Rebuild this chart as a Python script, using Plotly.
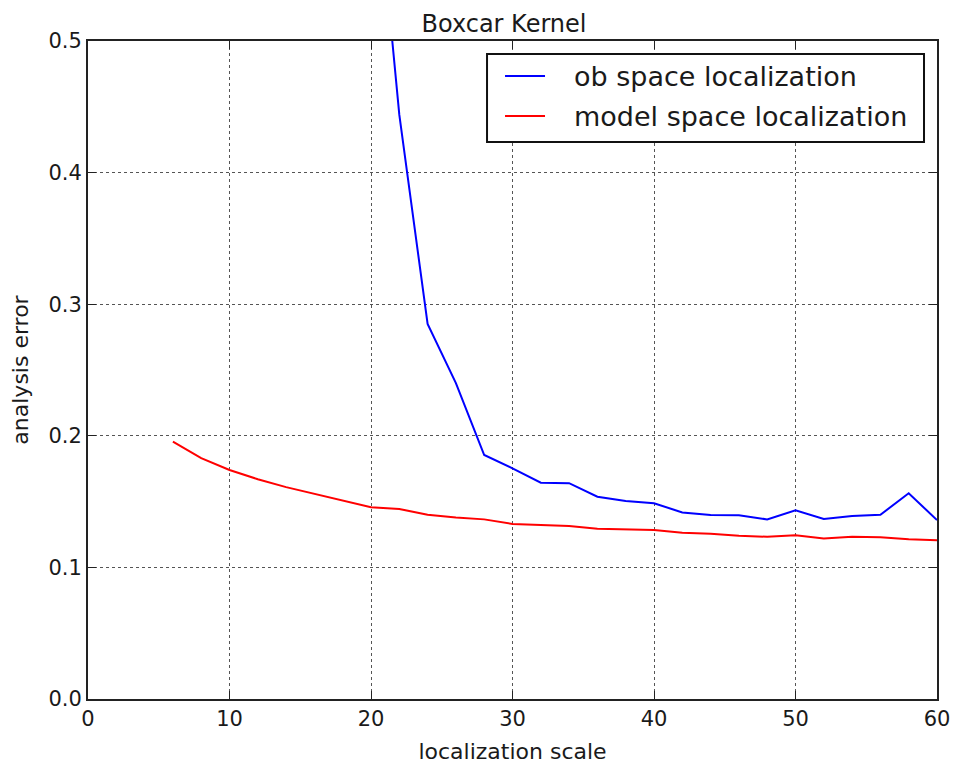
import plotly.graph_objects as go

# localization scales and analysis errors for each method
scale_ob = [20, 22, 24, 26, 28, 30, 32, 34, 36, 38, 40, 42, 44, 46, 48, 50, 52, 54, 56, 58, 60]
err_ob = [0.67, 0.444, 0.285, 0.240, 0.1854, 0.1753, 0.1644, 0.164, 0.1537, 0.1505, 0.1487,
          0.1418, 0.1398, 0.1396, 0.1365, 0.1434, 0.1368, 0.139, 0.140, 0.1563, 0.136]

scale_model = [6, 8, 10, 12, 14, 16, 18, 20, 22, 24, 26, 28, 30, 32, 34, 36, 38, 40,
               42, 44, 46, 48, 50, 52, 54, 56, 58, 60]
err_model = [0.1955, 0.183, 0.174, 0.167, 0.161, 0.156, 0.151, 0.1457, 0.1444, 0.140, 0.138,
             0.1365, 0.133, 0.132, 0.1315, 0.1294, 0.129, 0.1284, 0.1264, 0.1256, 0.124,
             0.1233, 0.1244, 0.122, 0.1233, 0.123, 0.1213, 0.1206]

series_names = ["ob space localization", "model space localization"]
series_colors = ["#0000ff", "#ff0000"]

x_ticks = [0, 10, 20, 30, 40, 50, 60]
y_ticks = [0.0, 0.1, 0.2, 0.3, 0.4, 0.5]

FONT = "DejaVu Sans"
TEXT = "#1a1a1a"

fig = go.Figure()
for xs, ys, name, color in zip([scale_ob, scale_model], [err_ob, err_model],
                               series_names, series_colors):
    fig.add_trace(go.Scatter(x=xs, y=ys, mode="lines", name=name,
                             line=dict(color=color, width=2), showlegend=False))

axis_common = dict(
    showline=True, linecolor="#222222", linewidth=2, mirror="ticks",
    ticks="inside", ticklen=8, tickwidth=1, tickcolor="#222222",
    showgrid=True, gridcolor="#555555", gridwidth=1, griddash="dot",
    zeroline=False, automargin=False, tickfont=dict(family=FONT, size=21, color=TEXT),
)

fig.update_xaxes(range=[0, 60], tickvals=x_ticks, ticktext=[str(v) for v in x_ticks],
                 title=dict(text="localization scale", font=dict(family=FONT, size=22, color=TEXT),
                            standoff=14),
                 **axis_common)
fig.update_yaxes(range=[0, 0.5], tickvals=y_ticks, ticktext=[f"{v:.1f}" for v in y_ticks],
                 title=dict(text="analysis error", font=dict(family=FONT, size=22, color=TEXT),
                            standoff=14),
                 **axis_common)

# framed legend in the upper right corner of the axes
box = dict(x0=0.470, x1=0.9847, y0=0.8465, y1=0.9802)
row_y = [0.9468, 0.886]
fig.add_shape(type="rect", xref="x domain", yref="y domain", **box,
              line=dict(color="#111111", width=2), fillcolor="white", layer="above")
for name, color, yy in zip(series_names, series_colors, row_y):
    fig.add_shape(type="line", xref="x domain", yref="y domain",
                  x0=0.4912, x1=0.5383, y0=yy, y1=yy,
                  line=dict(color=color, width=2), layer="above")
    fig.add_annotation(xref="x domain", yref="y domain", x=0.570, y=yy,
                       xanchor="left", yanchor="middle", showarrow=False, text=name,
                       font=dict(family=FONT, size=27, color=TEXT))

fig.update_layout(
    width=953, height=764,
    margin=dict(l=88, r=16, t=41, b=65),
    paper_bgcolor="white", plot_bgcolor="white",
    title=dict(text="Boxcar Kernel", x=0.49, xanchor="center", xref="paper",
               y=1, yref="paper", yanchor="bottom", pad=dict(b=9),
               font=dict(family=FONT, size=24, color=TEXT)),
    font=dict(family=FONT, color=TEXT),
    showlegend=False,
)

fig.write_html("out.html")
